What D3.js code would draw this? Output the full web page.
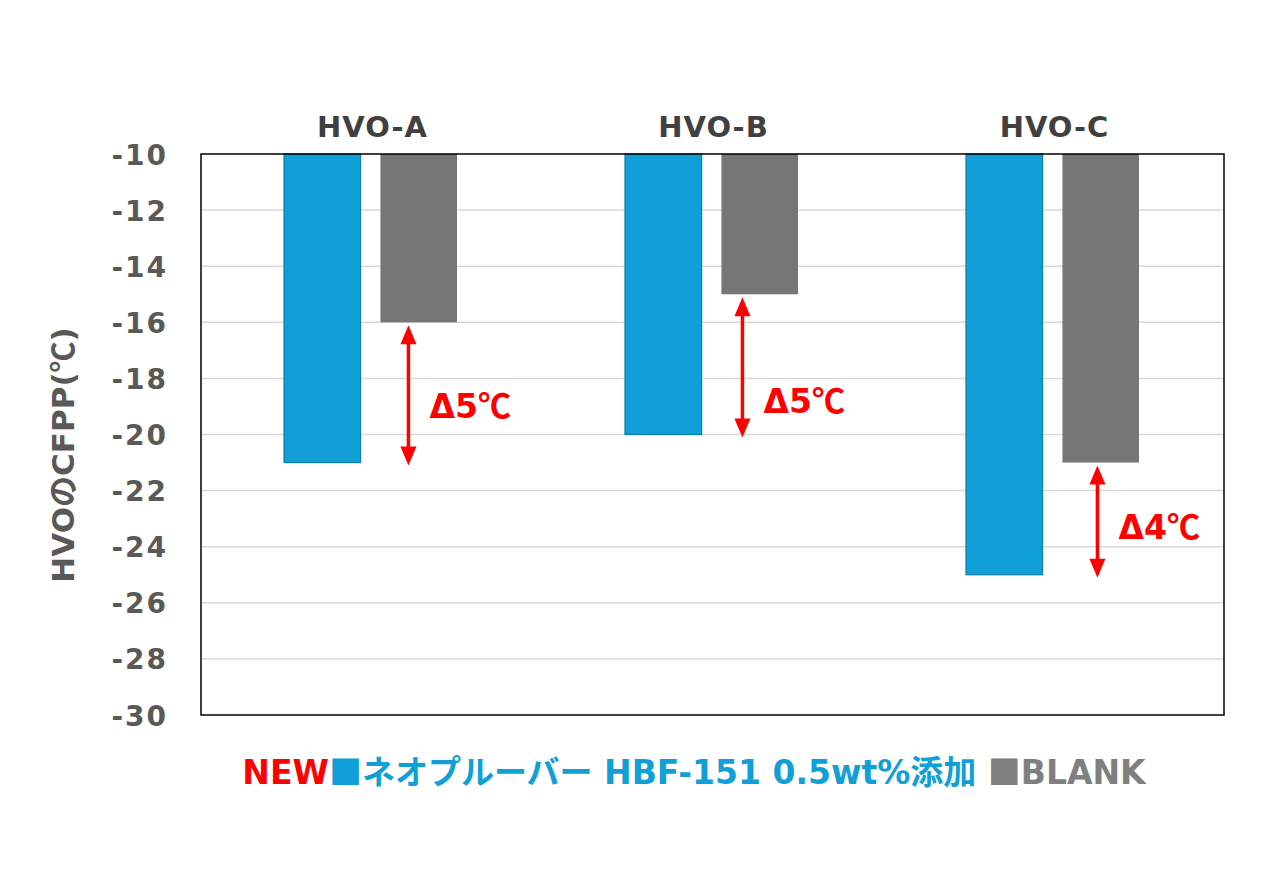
<!DOCTYPE html>
<html><head><meta charset="utf-8">
<script src="https://cdn.jsdelivr.net/npm/d3@7/dist/d3.min.js"></script>
<style>body{margin:0;background:#fff}svg{display:block}</style>
</head><body>
<svg id="c" width="1280" height="874"></svg>
<script>
const categories = ["HVO-A", "HVO-B", "HVO-C"];
const seriesNames = ["HBF-151", "BLANK"];
const hbfValues = [-21, -20, -25];
const blankValues = [-16, -15, -21];
const yTicks = [-10, -12, -14, -16, -18, -20, -22, -24, -26, -28, -30];
const deltaLabels = ["Δ5", "Δ5", "Δ4"];
const deltaLabelAt = [-19, -18.8, -23.3];

const BLUE = "#109fd6", GRAY = "#767676", RED = "#ff0000";
const L = 201, R = 1224, T = 154, B = 715;
const svg = d3.select("#c");
const font = "'DejaVu Sans',sans-serif";
const cjk = "'Noto Sans CJK JP',sans-serif";

const x0 = d3.scaleBand().domain(categories).range([L, R]);
const x1 = d3.scaleBand().domain(seriesNames).range([83, 256]).paddingInner(0.206);
const y = d3.scaleLinear().domain([-10, -30]).range([T, B]);

// grid
svg.append("g").selectAll("line").data(yTicks.slice(1, -1)).join("line")
  .attr("x1", L).attr("x2", R).attr("y1", d => y(d)).attr("y2", d => y(d))
  .attr("stroke", "#d9d9d9").attr("stroke-width", 1.5);

// y axis ticks
const ya = svg.append("g").attr("transform", `translate(${L},0)`)
  .call(d3.axisLeft(y).tickValues(yTicks).tickSize(0).tickPadding(33).tickFormat(d => d));
ya.select(".domain").remove();
ya.selectAll("text").attr("font-family", font).attr("font-weight", "bold")
  .attr("font-size", 28).attr("fill", "#595959").attr("letter-spacing", 2).attr("dy", "0.36em");

// bars
const data = [];
categories.forEach((c, i) => {
  data.push({c, s: "HBF-151", v: hbfValues[i]});
  data.push({c, s: "BLANK", v: blankValues[i]});
});
svg.append("g").selectAll("rect").data(data).join("rect")
  .attr("x", d => x0(d.c) + x1(d.s))
  .attr("width", x1.bandwidth())
  .attr("y", y(-10))
  .attr("height", d => y(d.v) - y(-10))
  .attr("fill", d => d.s === "BLANK" ? GRAY : BLUE)
  .attr("stroke", d => d.s === "BLANK" ? "none" : "#0b7fad")
  .attr("stroke-width", 1.2);

// plot border
svg.append("rect").attr("x", L).attr("y", T).attr("width", R - L).attr("height", B - T)
  .attr("fill", "none").attr("stroke", "#000").attr("stroke-width", 1.5);

// category labels
svg.append("g").selectAll("text").data(categories).join("text")
  .attr("x", d => x0(d) + x0.bandwidth() / 2 + 1)
  .attr("y", 137).attr("text-anchor", "middle")
  .attr("font-family", font).attr("font-weight", "bold").attr("font-size", 29)
  .attr("letter-spacing", 1)
  .attr("fill", "#404040").text(d => d);

// delta arrows
const arrowDx = [28, 21, 35];
categories.forEach((c, i) => {
  const ax = x0(c) + x1("BLANK") + arrowDx[i];
  const yTop = y(blankValues[i]) + 3, yBot = y(hbfValues[i]) + 3;
  const g = svg.append("g");
  const hh = 19, hw = 8;
  g.append("line").attr("x1", ax).attr("x2", ax).attr("y1", yTop + hh - 2).attr("y2", yBot - hh + 2)
    .attr("stroke", RED).attr("stroke-width", 3.5);
  g.append("path").attr("d", `M${ax},${yTop}L${ax - hw},${yTop + hh}L${ax + hw},${yTop + hh}Z`).attr("fill", RED);
  g.append("path").attr("d", `M${ax},${yBot}L${ax - hw},${yBot - hh}L${ax + hw},${yBot - hh}Z`).attr("fill", RED);
  const t = g.append("text").attr("x", ax + 21).attr("y", y(deltaLabelAt[i])).attr("dy", "0.36em")
    .attr("font-family", font).attr("font-weight", "bold").attr("font-size", 33)
    .attr("fill", RED);
  t.append("tspan").text(deltaLabels[i]);
  t.append("tspan").attr("font-family", cjk).text("℃");
});

// y label
const yl = svg.append("text").attr("transform", `translate(74,455) rotate(-90)`)
  .attr("text-anchor", "middle")
  .attr("font-family", font).attr("font-weight", "bold").attr("font-size", 31)
  .attr("fill", "#595959");
yl.append("tspan").text("HVO");
yl.append("tspan").attr("font-family", cjk).text("の");
yl.append("tspan").text("CFPP(");
yl.append("tspan").attr("font-family", cjk).text("℃");
yl.append("tspan").text(")");

// legend
const leg = svg.append("text").attr("y", 784).attr("font-family", font)
  .attr("font-weight", "bold").attr("font-size", 33);
leg.append("tspan").attr("fill", RED).text("NEW");
leg.append("tspan").attr("fill", BLUE).attr("font-family", cjk).text("■ネオプルーバー");
leg.append("tspan").attr("fill", BLUE).text(" HBF-151 0.5wt%");
leg.append("tspan").attr("fill", BLUE).attr("font-family", cjk).text("添加");
leg.append("tspan").attr("fill", "#7f7f7f").text(" ");
leg.append("tspan").attr("fill", "#7f7f7f").attr("font-family", cjk).text("■");
leg.append("tspan").attr("fill", "#7f7f7f").text("BLANK");
const w = leg.node().getComputedTextLength();
leg.attr("x", 694 - w / 2);
</script>
</body></html>
